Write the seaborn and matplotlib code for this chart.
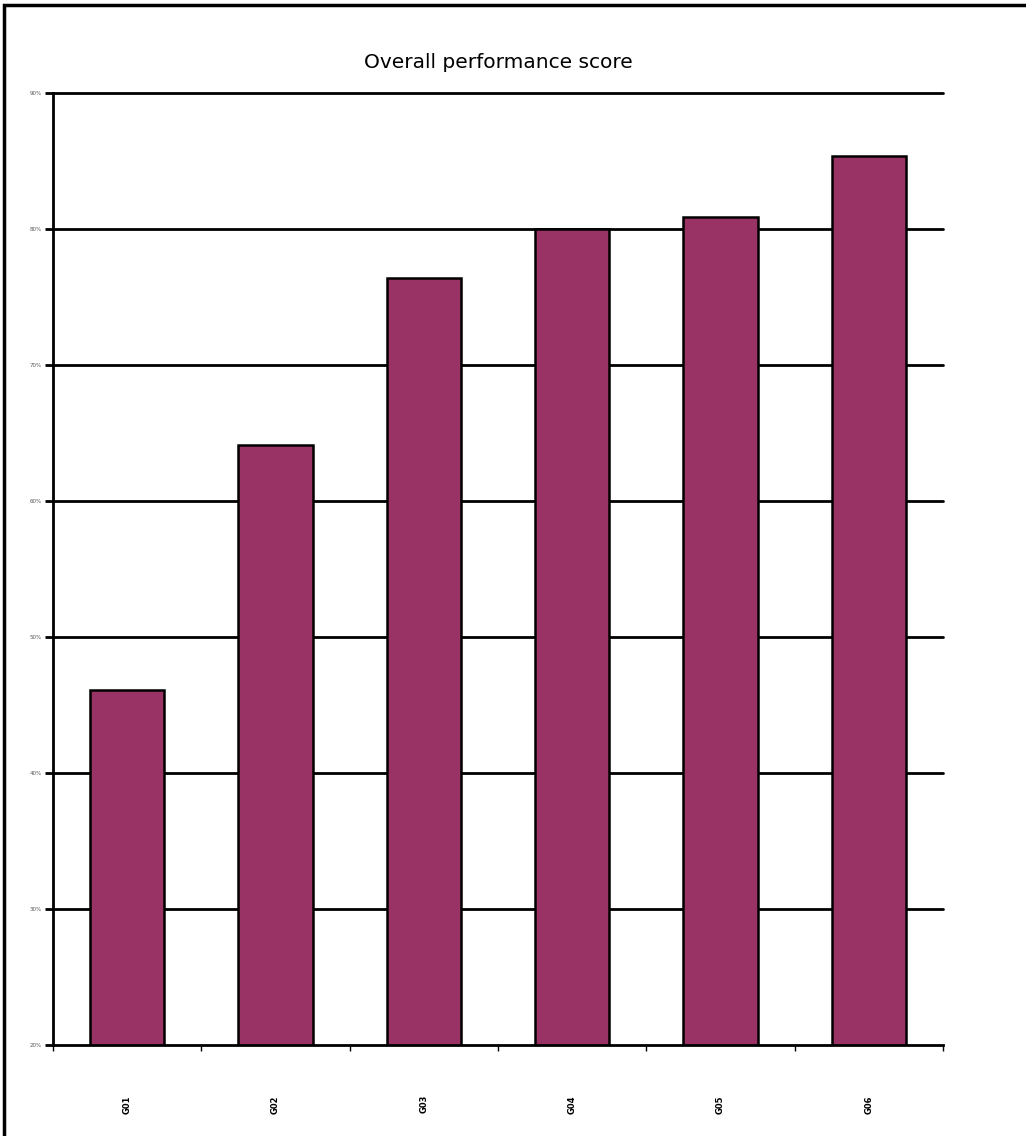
import pandas as pd
import matplotlib.pyplot as plt
import seaborn as sns
from matplotlib.patches import Rectangle

# Chart values
groups = ['G01', 'G02', 'G03', 'G04', 'G05', 'G06']
scores = [46.1, 64.1, 76.4, 80.0, 80.9, 85.4]
y_ticks = [20, 30, 40, 50, 60, 70, 80, 90]

data = pd.DataFrame({'group': groups, 'score': scores})

sns.set_style("white")

fig = plt.figure(figsize=(10.26, 11.36), dpi=100)
ax = fig.add_axes([53 / 1026, 91 / 1136, 890 / 1026, 952 / 1136])

# Outer frame of the chart area
fig.patches.append(Rectangle((4 / 1026, -0.01), 1.1, 1131 / 1136 + 0.01,
                             transform=fig.transFigure, fill=False,
                             edgecolor='black', linewidth=2.5))

# Horizontal gridlines drawn under the bars
for v in y_ticks[1:]:
    ax.axhline(v, color='black', linewidth=2, zorder=0, clip_on=False)

sns.barplot(ax=ax, x='group', y='score', data=data, color='#993366',
            saturation=1, width=0.5, edgecolor='black', linewidth=1.8, zorder=2)

ax.set_ylim(y_ticks[0], y_ticks[-1])
ax.set_xlim(-0.5, len(groups) - 0.5)
ax.set_yticks(y_ticks)
ax.set_yticklabels([f'{v}%' for v in y_ticks], fontsize=4, color='#555555')

# Tick marks between categories, labels at the centres
ax.set_xticks([i - 0.5 for i in range(len(groups) + 1)])
ax.set_xticklabels([])
ax.set_xticks(range(len(groups)), minor=True)
ax.set_xticklabels(groups, minor=True, rotation=90, fontsize=6, fontweight='bold', color='black')
ax.tick_params(axis='x', which='major', direction='out', length=4, width=1, color='black', bottom=True)
ax.tick_params(axis='x', which='minor', length=0, pad=36)
ax.tick_params(axis='y', direction='out', length=6, width=2, color='black', left=True, pad=2)

ax.set_xlabel('')
ax.set_ylabel('')
for side in ['top', 'right']:
    ax.spines[side].set_visible(False)
for side in ['left', 'bottom']:
    ax.spines[side].set_color('black')
    ax.spines[side].set_linewidth(2)

fig.text(498 / 1026, 1 - 62 / 1136, 'Overall performance score', ha='center', va='center',
         fontsize=14.5, color='black')

fig.savefig('out.png', dpi=100)
